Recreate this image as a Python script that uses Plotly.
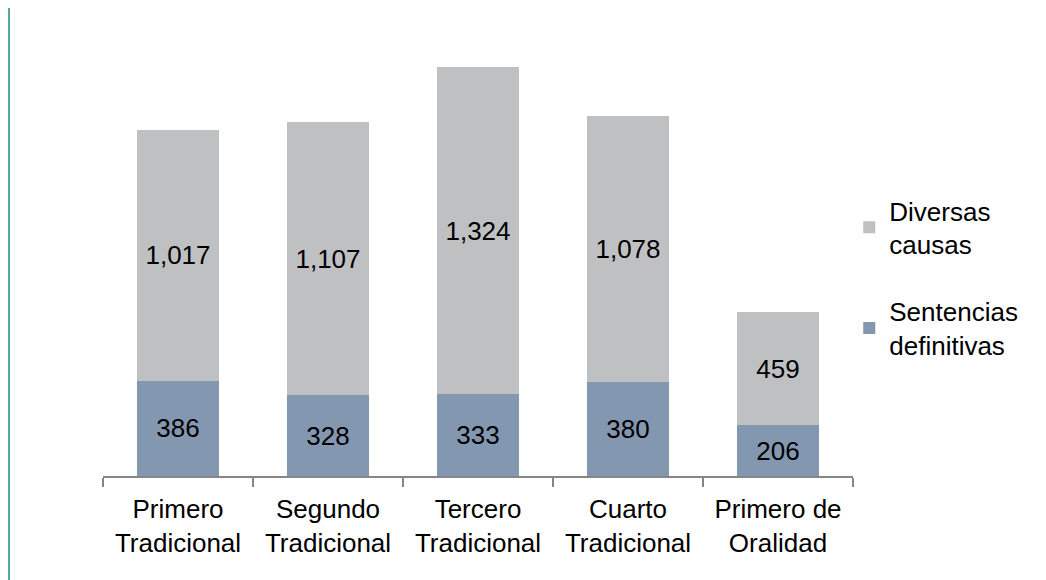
import plotly.graph_objects as go

categories = ["Primero<br>Tradicional", "Segundo<br>Tradicional", "Tercero<br>Tradicional",
              "Cuarto<br>Tradicional", "Primero de<br>Oralidad"]
sentencias = [386, 328, 333, 380, 206]
diversas = [1017, 1107, 1324, 1078, 459]

FONT = "Liberation Sans, Arial, sans-serif"
FS = 26

fig = go.Figure()
fig.add_trace(go.Bar(
    x=categories, y=sentencias, name="Sentencias<br>definitivas",
    marker=dict(color="#8497B0", line=dict(width=0)),
    texttemplate="%{y:,}", textposition="inside", insidetextanchor="middle",
    textangle=0, textfont=dict(size=FS, color="black", family=FONT),
    legendgroup="s", legendrank=2,
))
fig.add_trace(go.Bar(
    x=categories, y=diversas, name="Diversas<br>causas",
    marker=dict(color="#BFC0C2", line=dict(width=0)),
    texttemplate="%{y:,}", textposition="inside", insidetextanchor="middle",
    textangle=0, textfont=dict(size=FS, color="black", family=FONT),
    legendgroup="d", legendrank=1,
))

fig.add_shape(type="line", xref="paper", yref="paper",
              x0=-0.1253, x1=-0.1253, y0=1.06, y1=-0.234,
              line=dict(color="#1A8A7A", width=1.5))

fig.update_layout(
    width=1038, height=572,
    barmode="stack", bargap=0.447,
    paper_bgcolor="white", plot_bgcolor="white",
    margin=dict(l=95, r=193, t=24, b=104),
    font=dict(family=FONT, size=FS, color="black"),
    showlegend=True,
    legend=dict(
        traceorder="grouped", x=0.995, y=0.446, yanchor="middle", xanchor="left",
        font=dict(size=FS, family=FONT), tracegroupgap=30,
        itemwidth=30, bgcolor="rgba(0,0,0,0)",
    ),
    xaxis=dict(
        showline=True, linecolor="#868686", linewidth=1.5,
        ticks="outside", tickson="boundaries", ticklen=9, tickcolor="#868686",
        tickwidth=1.5, tickfont=dict(size=FS, family=FONT, color="black"),
        ticklabelstandoff=9, showgrid=False,
    ),
    yaxis=dict(range=[0, 1800], visible=False, showgrid=False, zeroline=False),
)

fig.write_html("out.html")
